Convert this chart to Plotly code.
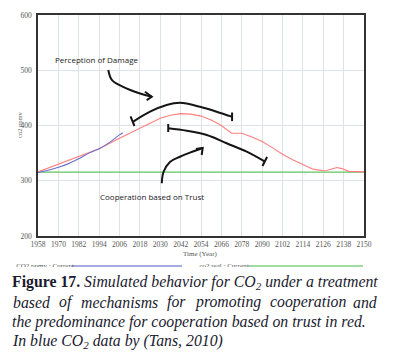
import plotly.graph_objects as go

W, H = 393, 364

# ---- data ----
sim_years = [1958, 1970, 1982, 1994, 2006, 2018, 2030, 2036, 2042, 2048, 2054, 2060, 2066, 2072,
             2078, 2084, 2090, 2096, 2102, 2108, 2114, 2120, 2126, 2128, 2134, 2137, 2141, 2145, 2150]
sim_co2 = [316, 330, 343, 358, 377, 395, 413, 418.5, 421.5, 420.5, 417, 410, 400, 386,
           386, 379, 371, 360, 348, 338, 329, 321, 318, 318.5, 324, 322, 317, 316, 316]

obs_years = [1958, 1964, 1970, 1976, 1982, 1988, 1994, 2000, 2006, 2008]
obs_co2 = [315, 319, 324.5, 331, 340, 350, 358, 369, 383, 387]

real_years = [1958, 2150]
real_co2 = [315.5, 315.5]

x_ticks = list(range(1958, 2151, 12))
y_ticks = [200, 300, 400, 500, 600]

# hand-drawn annotation strokes (year, ppm)
damage_arrow_x = [1999.4, 2001.6, 2008.1, 2018.1, 2025.0]
damage_arrow_y = [500.5, 482, 470, 458, 452]
damage_head_x = [2021, 2025.0, 2022]
damage_head_y = [461, 452, 446]
arc_x = [2014.1, 2024, 2033.8, 2041.6, 2053.4, 2063.2, 2072.1]
arc_y = [407, 425, 437, 441, 434, 425, 416]
arc_l_x = [2012.5, 2014.8]
arc_l_y = [416.4, 399.1]
arc_r_x = [2072.3, 2072.3]
arc_r_y = [423.5, 408]
trust_line_x = [2034.7, 2045.6, 2057.4, 2069.1, 2080.9, 2091.7]
trust_line_y = [395, 390.6, 382.8, 367.8, 352.6, 334.5]
trust_l_x = [2034.7, 2034.7]
trust_l_y = [402.7, 388.2]
trust_r_x = [2090.2, 2092.9]
trust_r_y = [326.7, 343]
trust_arrow_x = [2030.9, 2031.9, 2035.7, 2041.6, 2047.5, 2055.0]
trust_arrow_y = [295.4, 315.8, 334, 343.5, 351, 359.3]
trust_head_x = [2051, 2055.0, 2054.4]
trust_head_y = [357.5, 359.3, 346.6]

caption_line2 = ["based", "of", "mechanisms", "for", "promoting", "cooperation", "and"]


def px(v):
    return v / W


def py(v):
    return 1 - v / H


fig = go.Figure()

fig.add_trace(go.Scatter(x=real_years, y=real_co2, mode="lines",
                         line=dict(color="#62c462", width=1.2), hoverinfo="skip"))
fig.add_trace(go.Scatter(x=sim_years, y=sim_co2, mode="lines",
                         line=dict(color="#ff7f7f", width=1.1), hoverinfo="skip"))
fig.add_trace(go.Scatter(x=obs_years, y=obs_co2, mode="lines", line_shape="spline",
                         line=dict(color="#6670cc", width=1.1), hoverinfo="skip"))

for sx, sy, shape in [(damage_arrow_x, damage_arrow_y, "spline"),
                      (damage_head_x, damage_head_y, "linear"),
                      (arc_x, arc_y, "spline"), (arc_l_x, arc_l_y, "linear"),
                      (arc_r_x, arc_r_y, "linear"),
                      (trust_line_x, trust_line_y, "spline"), (trust_l_x, trust_l_y, "linear"),
                      (trust_r_x, trust_r_y, "linear"),
                      (trust_arrow_x, trust_arrow_y, "spline"),
                      (trust_head_x, trust_head_y, "linear")]:
    fig.add_trace(go.Scatter(x=sx, y=sy, mode="lines", line_shape=shape,
                             line=dict(color="#151515", width=2), hoverinfo="skip"))

# legend strip (clipped at bottom like the reference)
fig.add_trace(go.Scatter(x=[72, 182], y=[266, 266], mode="lines", xaxis="x2", yaxis="y2",
                         line=dict(color="#8890d8", width=1.5), hoverinfo="skip"))
fig.add_trace(go.Scatter(x=[248, 363], y=[266, 266], mode="lines", xaxis="x2", yaxis="y2",
                         line=dict(color="#80d080", width=1.5), hoverinfo="skip"))
fig.add_trace(go.Scatter(x=[45, 224], y=[266.3, 266.3], mode="text", xaxis="x2", yaxis="y2",
                         text=["CO2 ppmv : Current", "co2 real : Current"],
                         textfont=dict(family="Liberation Serif", size=7, color="#555"),
                         cliponaxis=True, hoverinfo="skip"))

tickfont = dict(family="Liberation Serif", size=7.5, color="#555")
fig.update_layout(
    width=W, height=H, margin=dict(l=0, r=0, t=0, b=0, pad=0, autoexpand=False),
    paper_bgcolor="white", plot_bgcolor="white", showlegend=False,
    xaxis=dict(domain=[px(38), px(364)], range=[1958, 2150], tickvals=x_ticks,
               ticktext=[str(t) for t in x_ticks], tickfont=tickfont, ticks="",
               showgrid=True, gridcolor="#dde3e6", gridwidth=1, zeroline=False,
               showline=True, mirror=True, linecolor="#333", linewidth=1.5),
    yaxis=dict(domain=[py(236), py(15)], range=[200, 600], tickvals=y_ticks,
               tickfont=tickfont, ticks="", ticklabelstandoff=3,
               showgrid=True, gridcolor="#dde3e6", gridwidth=1, zeroline=False,
               showline=True, mirror=True, linecolor="#333", linewidth=1.5),
    xaxis2=dict(domain=[0, 1], range=[0, W], visible=False, anchor="y2"),
    yaxis2=dict(domain=[py(267), py(255)], range=[267, 255], visible=False, anchor="x2"),
)

ann = []
ann.append(dict(x=1992.5, y=518.6, xref="x", yref="y", text="Perception of Damage",
                xanchor="center", yanchor="middle",
                showarrow=False, font=dict(family="Open Sans", size=8, color="#222")))
ann.append(dict(x=2025.4, y=272.4, xref="x", yref="y", text="Cooperation based on Trust",
                xanchor="center", yanchor="middle",
                showarrow=False, font=dict(family="Open Sans", size=8, color="#222")))
ann.append(dict(x=px(201), y=py(253.5), xref="paper", yref="paper", text="Time (Year)",
                xanchor="center", yanchor="middle",
                showarrow=False, font=dict(family="Liberation Serif", size=7, color="#555")))
ann.append(dict(x=px(19), y=py(125), xref="paper", yref="paper", text="co2 ppmv", textangle=-90,
                xanchor="center", yanchor="middle",
                showarrow=False, font=dict(family="Liberation Serif", size=6.5, color="#666")))

cap_font = dict(family="Liberation Serif", size=15.8, color="#1a1a2e")
ann.append(dict(x=px(10), y=py(282), xref="paper", yref="paper", xanchor="left", yanchor="middle",
                text="<b>Figure 17.</b> <i>Simulated behavior for CO<sub>2</sub> under a treatment</i>",
                showarrow=False, font=cap_font))
line2_x = [11, 57, 79, 165, 193, 268, 351]
for w, x in zip(caption_line2, line2_x):
    ann.append(dict(x=px(x), y=py(302), xref="paper", yref="paper", xanchor="left",
                    yanchor="middle", text="<i>%s</i>" % w, showarrow=False, font=cap_font))
ann.append(dict(x=px(10), y=py(321.5), xref="paper", yref="paper", xanchor="left", yanchor="middle",
                text="<i>the predominance for cooperation based on trust in red.</i>",
                showarrow=False, font=cap_font))
ann.append(dict(x=px(10), y=py(341), xref="paper", yref="paper", xanchor="left", yanchor="middle",
                text="<i>In blue CO<sub>2</sub> data by (Tans, 2010)</i>",
                showarrow=False, font=cap_font))
fig.update_layout(annotations=ann)

fig.write_html("out.html", config={"displayModeBar": False},
               post_script="document.body.style.margin='0';document.body.style.overflow='hidden';")
